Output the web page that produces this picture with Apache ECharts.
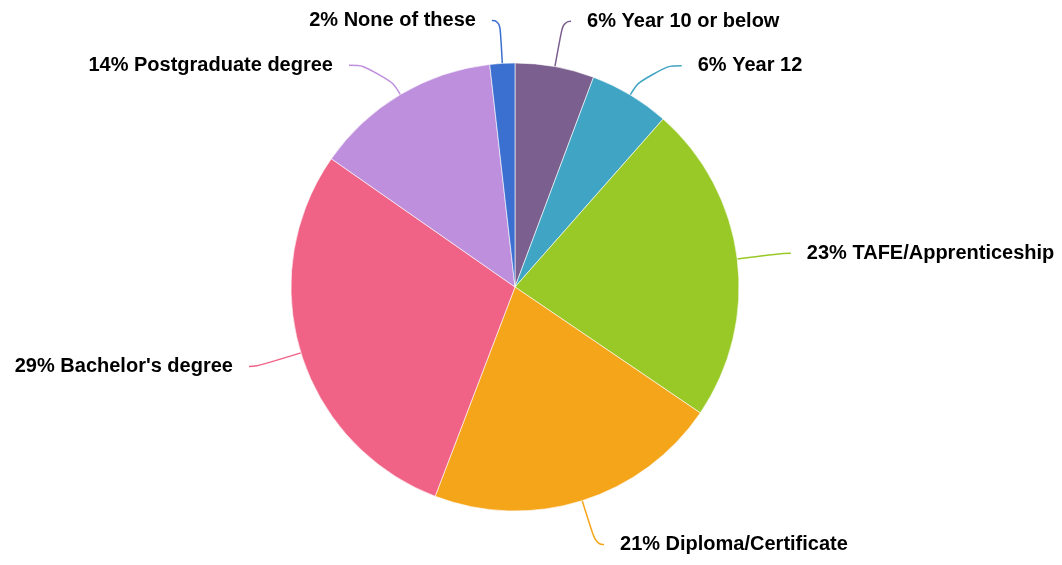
<!DOCTYPE html>
<html>
<head>
<meta charset="utf-8">
<script src="https://cdn.jsdelivr.net/npm/echarts@6/dist/echarts.min.js"></script>
<style>
  html, body { margin: 0; padding: 0; background: #fff; }
  #chart { width: 1062px; height: 565px; }
</style>
</head>
<body>
<div id="chart"></div>
<script>
// education levels, clockwise from 12 o'clock
const categories = ['Year 10 or below', 'Year 12', 'TAFE/Apprenticeship', 'Diploma/Certificate',
    "Bachelor's degree", 'Postgraduate degree', 'None of these'];
const shares = [5.7, 5.8, 23.0, 21.3, 28.9, 13.5, 1.8];
const colors = ['#7b5f8f', '#40a4c4', '#98c926', '#f5a51a', '#f06386', '#be8fdc', '#3b6fd0'];
// leader line [radial, horizontal] lengths per slice
const leaders = [[46, 8], [34, 34], [46, 8], [46, 8], [46, 8], [34, 34], [43, 8]];

const chart = echarts.init(document.getElementById('chart'));
chart.setOption({
    animation: false,
    color: colors,
    series: [{
        type: 'pie',
        center: [515, 287],
        radius: 224,
        startAngle: 90,
        clockwise: true,
        avoidLabelOverlap: false,
        itemStyle: { borderColor: '#fff', borderWidth: 0.6 },
        label: {
            formatter: p => Math.round(p.value) + '% ' + p.name,
            color: '#000',
            fontFamily: 'Liberation Sans',
            fontWeight: 'bold',
            fontSize: 20,
            padding: [12, 0, 0, 0],
            distanceToLabelLine: 16
        },
        labelLine: {
            show: true,
            smooth: 0.6,
            lineStyle: { width: 1.5 }
        },
        data: categories.map((name, i) => ({
            name,
            value: shares[i],
            labelLine: { length: leaders[i][0], length2: leaders[i][1] }
        }))
    }]
});
</script>
</body>
</html>
